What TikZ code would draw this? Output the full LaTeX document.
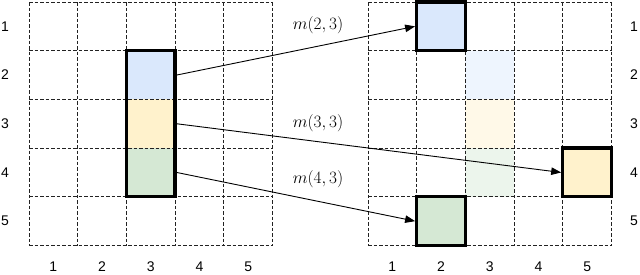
\documentclass[tikz,border=0pt]{standalone}
\usepackage{fontspec}
\setmainfont{Liberation Sans}
\usetikzlibrary{arrows.meta}
\definecolor{cblue}{HTML}{DAE8FC}
\definecolor{cyellow}{HTML}{FFF2CC}
\definecolor{cgreen}{HTML}{D5E8D4}
\definecolor{gridgray}{HTML}{222222}
\tikzset{
  gridline/.style={draw=gridgray, dashed, dash pattern=on 3.5pt off 2pt, line width=0.8pt},
  cellbox/.style={minimum width=48.7pt, minimum height=48.7pt, inner sep=0pt, outer sep=0pt, draw=none},
  thickbox/.style={draw=black, line width=3.3pt},
  conn/.style={draw=black, line width=0.9pt, -{Triangle[length=10pt,width=7.5pt]}},
  numlabel/.style={font=\fontsize{14}{16}\selectfont, inner sep=0pt},
  mlabel/.style={font=\fontsize{16}{18}\selectfont, inner sep=0pt},
}
\begin{document}
\begin{tikzpicture}[x=1pt,y=-1pt]
\useasboundingbox (0,0) rectangle (640,274);
\def\cs{48.7}
% colored cells on left: column 3, rows 2-4
\node[cellbox, fill=cblue]   (L2) at ({29+2.5*\cs},{2+1.5*\cs}) {};
\node[cellbox, fill=cyellow] (L3) at ({29+2.5*\cs},{2+2.5*\cs}) {};
\node[cellbox, fill=cgreen]  (L4) at ({29+2.5*\cs},{2+3.5*\cs}) {};
% faded cells on right: column 3, rows 2-4
\node[cellbox, fill=cblue!45]   (F2) at ({368+2.5*\cs},{2+1.5*\cs}) {};
\node[cellbox, fill=cyellow!45] (F3) at ({368+2.5*\cs},{2+2.5*\cs}) {};
\node[cellbox, fill=cgreen!45]  (F4) at ({368+2.5*\cs},{2+3.5*\cs}) {};
% target cells on right
\node[cellbox, fill=cblue]   (R1) at ({368+1.5*\cs},{2+0.5*\cs}) {};
\node[cellbox, fill=cyellow] (R4) at ({368+4.5*\cs},{2+3.5*\cs}) {};
\node[cellbox, fill=cgreen]  (R5) at ({368+1.5*\cs},{2+4.5*\cs}) {};
% grids
\foreach \ox in {29,368}{
  \foreach \i in {0,...,5}{
    \draw[gridline] ({\ox+\i*\cs},2) -- ({\ox+\i*\cs},{2+5*\cs});
    \draw[gridline] (\ox,{2+\i*\cs}) -- ({\ox+5*\cs},{2+\i*\cs});
  }
}
% thick outlines
\draw[thickbox] (L2.north west) rectangle (L4.south east);
\draw[thickbox] (R1.north west) rectangle (R1.south east);
\draw[thickbox] (R4.north west) rectangle (R4.south east);
\draw[thickbox] (R5.north west) rectangle (R5.south east);
% labels
\foreach \i in {1,...,5}{
  \node[numlabel] (rl\i) at (5,{2+(\i-0.5)*\cs}) {\i};
  \node[numlabel] (rr\i) at (634,{2+(\i-0.5)*\cs}) {\i};
  \node[numlabel] (cl\i) at ({29+(\i-0.5)*\cs},267) {\i};
  \node[numlabel] (cr\i) at ({368+(\i-0.5)*\cs},267) {\i};
}
% connectors
\draw[conn] ([xshift=1.6pt]L2.east) -- ([xshift=-1.6pt]R1.west);
\draw[conn] ([xshift=1.6pt]L3.east) -- ([xshift=-1.6pt]R4.west);
\draw[conn] ([xshift=1.6pt]L4.east) -- ([xshift=-1.6pt]R5.west);
\node[mlabel] (m1) at (318,25) {$m(2,3)$};
\node[mlabel] (m2) at (318,123) {$m(3,3)$};
\node[mlabel] (m3) at (318,179) {$m(4,3)$};
\end{tikzpicture}
\end{document}
